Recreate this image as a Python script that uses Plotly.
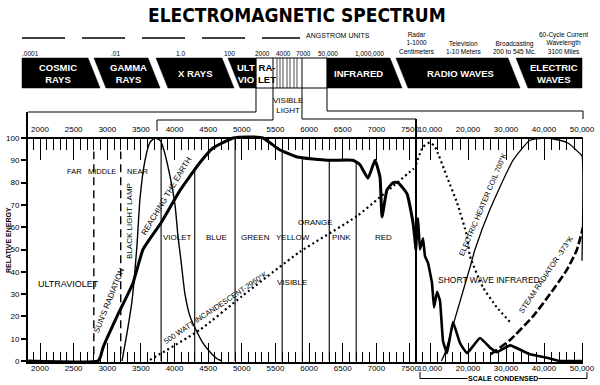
import numpy as np
import plotly.graph_objects as go

# ---------------- data ----------------
# main (uncondensed) part of the wavelength scale, Angstrom units
sun_wl = [1822, 2860, 2900, 2937, 3145, 3383, 3531, 3800, 4081, 4378, 4572, 4869, 5100, 5315, 5568,
          5820, 6058, 6311, 6653, 6757, 6876, 6980, 7054, 7084, 7158, 7248, 7322, 7456, 7545, 7589]
sun_val = [0, 0, 2, 6, 20, 35, 50, 62, 76.5, 89, 95.5, 100, 100.5, 100, 94.6,
           91.5, 90.6, 90, 90, 88, 82, 90, 82.5, 64.6, 76.7, 80, 80, 75, 62, 50]
# condensed part of the scale
sun_wl_c = [6316, 6842, 7368, 8158, 8684, 9474, 10526, 11053, 11842, 12632, 13421, 14474, 16053,
            17895, 19737, 23158, 25789, 27632, 31053, 36316, 40789, 44211, 50263]
sun_val_c = [50, 64, 50, 55, 47, 44, 35, 24, 31, 27, 9, 3.5, 17.5,
             8, 3.5, 10.3, 6, 4, 7, 3, 1.5, 0, 0]

lamp_wl = [3219, 3293, 3368, 3412, 3442, 3487, 3561, 3635, 3709, 3784, 3828, 3932, 4007, 4051,
           4096, 4155, 4230, 4334, 4423, 4527, 4631, 4706]
lamp_val = [0, 12.5, 27, 41, 52, 73, 90, 98, 100, 99, 96, 83, 70, 56,
            45, 30, 20, 13, 8, 4, 1, 0]

inc_wl = [3635, 4378, 5000, 5865, 6712, 7545, 7589]
inc_val = [0.5, 14, 29, 49, 65, 86, 87]
inc_wl_c = [6316, 8158, 10000, 11316, 14474, 17105, 19737, 20526, 23947, 27632, 31053]
inc_val_c = [88, 96, 98, 96, 82.5, 71, 56, 47, 33, 24, 17.5]

coil_wl = [13000, 13947, 16053, 20526, 21842, 25789, 31842, 36316, 40789, 46053, 49474, 50000, 50000]
coil_val = [0, 3.6, 16, 42, 50, 68, 90, 99, 100, 98, 93, 92, 45]

steam_wl = [26000, 27632, 31053, 37105, 41579, 46053, 48684, 50263]
steam_val = [3, 5, 9.4, 20, 30, 41, 50, 60]

uv_bounds = [2800, 3200]
uv_bound_span = [3, 94]
color_bounds = [3800, 4300, 4900, 5600, 5900, 6300, 6700]

main_ticks = [2000, 2500, 3000, 3500, 4000, 4500, 5000, 5500, 6000, 6500, 7000, 7500]
main_ticktext = [str(v) for v in main_ticks]
cond_ticks = [10000, 20000, 30000, 40000, 50000]
cond_ticktext = ["10,000", "20,000", "30,000", "40,000", "50,000"]
y_ticks = [0, 10, 20, 30, 40, 50, 60, 70, 80, 90, 100]

uv_names = ["FAR", "MIDDLE", "NEAR"]
color_names = ["VIOLET", "BLUE", "GREEN", "YELLOW", "ORANGE", "PINK", "RED"]

# ---------------- geometry ----------------
FONT = "Liberation Sans, Arial, sans-serif"
TFONT = "Liberation Sans Narrow, DejaVu Sans Condensed, Liberation Sans, sans-serif"
BLK = "black"
L, R, T, B = 28, 583, 112, 362
W, H = R - L, B - T
split = (416 - L) / W
x1_range = [1821.6, 7589.4]
x2_range = [6315.8, 50263]
y_range = [-0.45, 111.66]
pos100 = (100 - y_range[0]) / (y_range[1] - y_range[0])


def px(x):
    return (x - L) / W


def py(y):
    return (B - y) / H


fig = go.Figure()


def add_line(x, y, xa, width, dash=None, shape="linear", smoothing=None):
    ln = dict(color=BLK, width=width, shape=shape)
    if dash:
        ln["dash"] = dash
    if smoothing is not None:
        ln["smoothing"] = smoothing
    fig.add_trace(go.Scatter(x=x, y=y, xaxis=xa, yaxis="y", mode="lines", line=ln,
                             hoverinfo="skip", showlegend=False))


# vertical boundary lines
sun_top = np.maximum(np.interp(color_bounds, sun_wl, sun_val), np.interp(color_bounds, lamp_wl, lamp_val))
bx, by = [], []
for b, t in zip(color_bounds, sun_top):
    bx += [b, b, None]
    by += [0, float(t), None]
add_line(bx, by, "x", 1.1)
ux, uy = [], []
for b in uv_bounds:
    ux += [b, b, None]
    uy += [uv_bound_span[0], uv_bound_span[1], None]
add_line(ux, uy, "x", 1.4, dash="8px,5px")

# curves
add_line(lamp_wl, lamp_val, "x", 1.4, shape="spline", smoothing=0.6)
add_line(inc_wl, inc_val, "x", 2.2, dash="2px,3px", shape="spline", smoothing=0.5)
add_line(inc_wl_c, inc_val_c, "x2", 2.2, dash="2px,3px", shape="spline", smoothing=0.5)
add_line(coil_wl, coil_val, "x2", 1.3, shape="spline", smoothing=0.5)
add_line(steam_wl, steam_val, "x2", 2.6, dash="8px,3px", shape="spline", smoothing=0.5)
add_line(sun_wl, sun_val, "x", 3, shape="spline", smoothing=0.4)
add_line(sun_wl_c, sun_val_c, "x2", 2.6, shape="spline", smoothing=0.3)

# invisible traces so the top scales exist
for xa, xv in (("x3", 2000), ("x4", 20000)):
    fig.add_trace(go.Scatter(x=[xv, xv], y=[-20, -20], xaxis=xa, yaxis="y", mode="lines",
                             line=dict(width=0), hoverinfo="skip", showlegend=False))

ax_common = dict(showgrid=False, zeroline=False, showline=True, linecolor=BLK, tickcolor=BLK,
                 automargin=False, tickfont=dict(size=8, color=BLK, family=FONT))

layout = dict(
    width=600, height=385, margin=dict(l=L, r=600 - R, t=T, b=385 - B, autoexpand=False),
    paper_bgcolor="white", plot_bgcolor="white", showlegend=False,
    font=dict(family=FONT, color=BLK),
    xaxis=dict(domain=[0, split], range=x1_range, anchor="y", linewidth=2, ticks="inside", ticklen=19,
               tickwidth=1.2, tickvals=main_ticks, ticktext=main_ticktext, ticklabelstandoff=-3,
               minor=dict(ticks="inside", ticklen=10, tickwidth=1, tickcolor=BLK, dtick=100, tick0=0),
               **ax_common),
    xaxis2=dict(domain=[split, 1], range=x2_range, anchor="y", linewidth=2, ticks="inside", ticklen=19,
                tickwidth=1.2, tickvals=cond_ticks, ticktext=cond_ticktext, ticklabelstandoff=-3,
                minor=dict(ticks="inside", ticklen=10, tickwidth=1, tickcolor=BLK, dtick=2000, tick0=0),
                **ax_common),
    xaxis3=dict(overlaying="x", anchor="free", position=pos100, side="top", range=x1_range,
                linewidth=1.5, ticks="inside", ticklen=21, tickwidth=1.2, tickvals=main_ticks,
                ticktext=main_ticktext, ticklabelstandoff=2,
                minor=dict(ticks="inside", ticklen=11, tickwidth=1, tickcolor=BLK, dtick=100, tick0=0),
                **ax_common),
    xaxis4=dict(overlaying="x2", anchor="free", position=pos100, side="top", range=x2_range,
                linewidth=1.5, ticks="inside", ticklen=21, tickwidth=1.2, tickvals=cond_ticks,
                ticktext=cond_ticktext, ticklabelstandoff=2,
                minor=dict(ticks="inside", ticklen=11, tickwidth=1, tickcolor=BLK, dtick=2000, tick0=0),
                **ax_common),
    yaxis=dict(domain=[0, 1], range=y_range, anchor="x", linewidth=2, ticks="outside", ticklen=5,
               tickwidth=1.5, tickvals=y_ticks, **ax_common),
)
fig.update_layout(**layout)

shapes = []
annotations = []


def pth(points, closed=False):
    s = "M " + " L ".join(f"{px(x):.5f},{py(y):.5f}" for x, y in points)
    return s + (" Z" if closed else "")


def poly(points, fill=None, width=1.0, dash=None, closed=False):
    ln = dict(color=BLK, width=width)
    if dash:
        ln["dash"] = dash
    shapes.append(dict(type="path", xref="paper", yref="paper", path=pth(points, closed),
                       fillcolor=fill if fill else "rgba(0,0,0,0)", line=ln, layer="above"))


def text(t, x, y, size, color=BLK, xanchor="center", yanchor="middle", angle=0, xref="paper",
         yref="paper", bold=False, bg=None, family=FONT):
    if xref == "paper":
        x = px(x)
    if yref == "paper":
        y = py(y)
    a = dict(text=f"<b>{t}</b>" if bold else t, x=x, y=y, xref=xref, yref=yref, showarrow=False,
             xanchor=xanchor, yanchor=yanchor, textangle=angle,
             font=dict(size=size, color=color, family=family))
    if bg:
        a["bgcolor"] = bg
        a["borderpad"] = 0
    annotations.append(a)


# ---- banner ----
BT, BB = 58, 88
boxes = [(22, 88, 100, 22), (94, 148, 160, 106), (156, 222, 234, 168), (228, 256, 256, 240),
         (327, 390, 402, 327), (396, 508, 520, 408), (516, 582, 582, 528)]
for tl, tr, br, bl in boxes:
    poly([(tl, BT), (tr, BT), (br, BB), (bl, BB)], fill=BLK, width=0.5, closed=True)
poly([(256, BT), (327, BT), (327, BB), (256, BB)], width=1, closed=True)
for xv in (273, 302):
    poly([(xv, BT), (xv, BB)], width=1)
for xv in (277, 280, 283, 287, 290, 294, 297):
    poly([(xv, BT), (xv, BB)], width=0.7)

text("COSMIC<br>RAYS", 58, 73, 9.5, color="white", bold=True)
text("GAMMA<br>RAYS", 128, 73, 9.5, color="white", bold=True)
text("X RAYS", 195, 73, 9.5, color="white", bold=True)
text("ULT<br>VIO", 256.5, 73, 9.5, color="white", bold=True, xanchor="right")
text("RA-<br>LET", 255.5, 73, 9.5, color=BLK, bold=True, xanchor="left")
text("INFRARED", 358, 73, 9.5, color="white", bold=True)
text("RADIO WAVES", 460, 73, 9.5, color="white", bold=True)
text("ELECTRIC<br>WAVES", 554, 73, 9.5, color="white", bold=True)

# scale labels above banner
for t, xv in ((".0001", 30), (".01", 115), ("1.0", 180), ("100", 229), ("2000", 262), ("4000", 283),
              ("7000", 303), ("50,000", 328), ("1,000,000", 369)):
    text(t, xv, 53, 6.5)
text("Radar<br>1-1000<br>Centimeters", 417, 57, 6.5, yanchor="bottom")
text("Television<br>1-10 Meters", 463, 57, 6.5, yanchor="bottom")
text("Broadcasting<br>200 to 545 Mc.", 514, 57, 6.5, yanchor="bottom")
text("60-Cycle Current<br>Wavelength<br>3100 Miles", 563, 57, 6.5, yanchor="bottom")
text("ANGSTROM UNITS", 338, 36, 7)
poly([(22, 38), (300, 38)], width=1.5, dash="43px,17px")

# title
text("ELECTROMAGNETIC SPECTRUM", 297, 15, 19, bold=True, family=TFONT)

# brackets
poly([(256, BB), (256, 112), (28, 112)], width=1)
poly([(273, BB), (273, 120), (157, 120), (157, 131)], width=1)
poly([(302, BB), (302, 119), (416, 119)], width=1)
poly([(327, BB), (327, 111), (583, 111), (583, 119)], width=1)
poly([(416, 119), (416, 362)], width=2)
text("VISIBLE<br>LIGHT", 288, 105, 8)

# scale condensed bracket
poly([(420, 372), (420, 378.5), (587, 378.5), (587, 372)], width=1)
text("SCALE CONDENSED", 503, 378.5, 7, bg="white", bold=True)

# y axis title
text("RELATIVE ENERGY", 8, 240, 7, angle=-90, bold=True)

# ---- in-chart labels ----
for t, xv in zip(uv_names, [2520, 2929, 3449]):
    text(t, xv, 85, 7.5, xref="x", yref="y")
text("ULTRAVIOLET", 2431, 34.5, 9, xref="x", yref="y")
text("BLACK LIGHT LAMP", 3330, 63, 8, angle=-90, xref="x", yref="y")
text("SUN'S RADIATION", 3030, 27, 8, angle=-68, xref="x", yref="y")
text("REACHING THE EARTH", 3890, 74, 8, angle=-59, xref="x", yref="y")
for t, xv, yv in zip(color_names, [4051, 4631, 5196, 5768, 6088, 6489, 7106],
                     [55.6, 55.6, 55.6, 55.6, 62, 55.6, 55.6]):
    text(t, xv, yv, 8, xref="x", yref="y")
text("VISIBLE", 5753, 35.4, 8, xref="x", yref="y")
text("500 WATT INCANDESCENT-2960°K", 4615, 24, 7.5, angle=-34, xref="x", yref="y")
text("SHORT WAVE INFRARED", 25526, 36.3, 8.5, xref="x2", yref="y")
text("ELECTRIC HEATER COIL 700°K", 24000, 70, 7.5, angle=-67, xref="x2", yref="y")
text("STEAM RADIATOR -373°K", 40500, 39, 7.5, angle=-56, xref="x2", yref="y")

fig.update_layout(shapes=shapes, annotations=annotations)
fig.write_html("out.html", config={"displayModeBar": False},
               post_script="document.body.style.margin='0px';")
